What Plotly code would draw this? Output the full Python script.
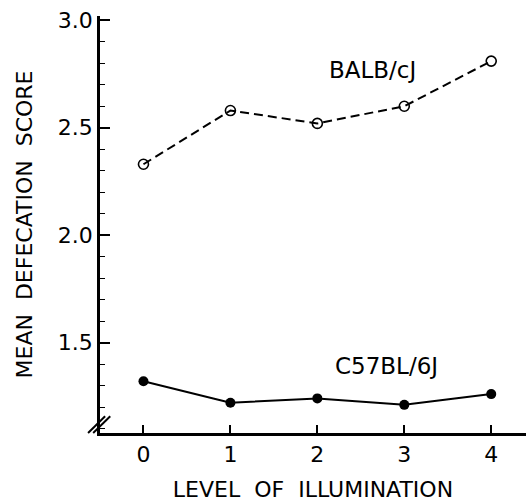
import plotly.graph_objects as go

levels = [0, 1, 2, 3, 4]
balb = [2.33, 2.58, 2.52, 2.60, 2.81]
c57 = [1.32, 1.22, 1.24, 1.21, 1.26]
x_ticks = [0, 1, 2, 3, 4]
y_ticks = [1.5, 2.0, 2.5, 3.0]
y_tick_text = ["1.5", "2.0", "2.5", "3.0"]

FONT = "DejaVu Sans"

fig = go.Figure()
fig.add_trace(go.Scatter(
    x=levels, y=balb, mode="lines+markers", name="BALB/cJ",
    line=dict(color="black", width=2, dash="9px,5px"),
    marker=dict(symbol="circle-open", size=10, color="black", line=dict(width=1.6, color="black")),
))
fig.add_trace(go.Scatter(
    x=levels, y=c57, mode="lines+markers", name="C57BL/6J",
    line=dict(color="black", width=2),
    marker=dict(symbol="circle", size=10, color="black"),
))

fig.add_annotation(x=2.64, y=2.77, text="BALB/cJ", showarrow=False,
                   font=dict(family=FONT, size=23, color="black"))
fig.add_annotation(x=2.80, y=1.39, text="C57BL/6J", showarrow=False,
                   font=dict(family=FONT, size=23, color="black"))

# axis break marks at the bottom of the y axis
for dx in (0.0, 0.012):
    fig.add_shape(type="line", xref="paper", yref="paper",
                  x0=-0.028 + dx, y0=0.0, x1=0.012 + dx, y1=0.04,
                  line=dict(color="black", width=2))

fig.update_layout(
    width=526, height=502, autosize=False,
    margin=dict(l=100, r=0, t=16, b=69),
    paper_bgcolor="white", plot_bgcolor="white",
    showlegend=False,
    font=dict(family=FONT, color="black"),
    xaxis=dict(
        range=[-0.5, 4.4], tickvals=x_ticks, ticktext=[str(v) for v in x_ticks],
        ticks="inside", ticklen=8, tickwidth=1.5, tickcolor="black",
        showline=True, linecolor="black", linewidth=2.5,
        showgrid=False, zeroline=False, automargin=False,
        tickfont=dict(family=FONT, size=22),
        title=dict(text="LEVEL&nbsp; OF&nbsp; ILLUMINATION", standoff=24,
                   font=dict(family=FONT, size=22)),
    ),
    yaxis=dict(
        range=[1.079, 3.02], tickvals=y_ticks, ticktext=y_tick_text,
        ticks="inside", ticklen=10, tickwidth=1.5, tickcolor="black",
        minor=dict(dtick=0.1, tick0=1.0, ticks="inside", ticklen=5, tickwidth=1.2, tickcolor="black"),
        showline=True, linecolor="black", linewidth=2.5,
        showgrid=False, zeroline=False, automargin=False,
        tickfont=dict(family=FONT, size=22),
        ticklabelstandoff=0,
        title=dict(text="MEAN&nbsp; DEFECATION&nbsp; SCORE", standoff=20,
                   font=dict(family=FONT, size=22)),
    ),
)

fig.write_html("out.html", config={"displayModeBar": False},
               post_script="document.body.style.margin='0';document.body.style.overflow='hidden';")
